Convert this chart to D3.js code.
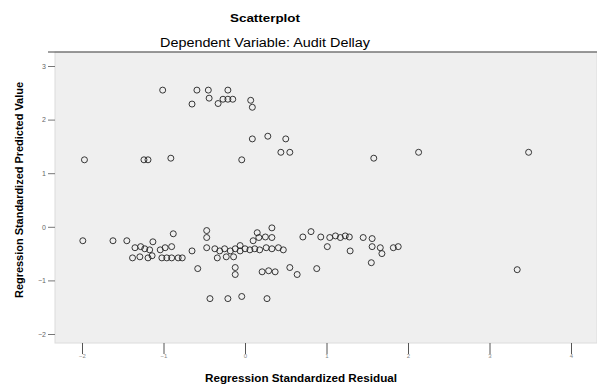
<!DOCTYPE html>
<html>
<head>
<meta charset="utf-8">
<script src="https://cdn.jsdelivr.net/npm/d3@7"></script>
<style>
  body { margin: 0; background: #fff; }
  text { font-family: "Liberation Sans", Arial, sans-serif; }
</style>
</head>
<body>
<script>
// residual (x) vs predicted value (y), both standardized
const residual = [
  -1.97, -1.24, -1.19, -0.91, -1.01, -0.59, -0.45, -0.21, -0.44, -0.65,
  -0.33, -0.27, -0.21, -0.15, 0.07, 0.09, -0.04, 0.09, 0.28, 0.50,
  0.44, 0.55, 1.58, 2.13, 3.48,
  -1.99, -1.62, -1.45, -1.13, -0.88, -0.47, -0.47, -0.47, -1.35, -1.28,
  -1.23, -1.17, -1.04, -0.98, -0.90, -0.65, -1.38, -1.29, -1.19, -1.14,
  -1.02, -0.96, -0.90, -0.82, -0.77, -0.58, -0.37, -0.31, -0.25, -0.18,
  -0.12, -0.06, 0.00, 0.06, 0.12, 0.18, 0.26, 0.33, 0.41, 0.47,
  -0.34, -0.23, -0.14, -0.12, -0.12, 0.21, 0.29, 0.37, 0.55, 0.64,
  0.88, -0.43, -0.21, -0.04, 0.27, 0.33, 0.15, 0.10, 0.17, 0.25,
  0.33, 0.71, 0.81, 0.93, 1.04, 1.11, 1.17, 1.23, 1.28, 1.01,
  1.29, 1.45, 1.56, 1.56, 1.66, 1.68, 1.82, 1.88, 1.55, 3.34,
  -0.06
];
const predicted = [
  1.25, 1.25, 1.25, 1.28, 2.55, 2.55, 2.55, 2.55, 2.40, 2.29,
  2.30, 2.38, 2.38, 2.38, 2.36, 2.23, 1.25, 1.64, 1.69, 1.64,
  1.39, 1.39, 1.28, 1.39, 1.39,
  -0.26, -0.26, -0.26, -0.28, -0.13, -0.07, -0.20, -0.39, -0.39, -0.37,
  -0.41, -0.43, -0.43, -0.39, -0.37, -0.45, -0.58, -0.56, -0.58, -0.54,
  -0.58, -0.58, -0.58, -0.58, -0.58, -0.78, -0.41, -0.45, -0.41, -0.45,
  -0.41, -0.45, -0.41, -0.43, -0.41, -0.43, -0.39, -0.41, -0.39, -0.43,
  -0.58, -0.56, -0.56, -0.76, -0.89, -0.84, -0.82, -0.84, -0.76, -0.89,
  -0.78, -1.34, -1.34, -1.30, -1.34, -0.02, -0.11, -0.26, -0.20, -0.19,
  -0.20, -0.19, -0.09, -0.19, -0.20, -0.17, -0.20, -0.17, -0.19, -0.37,
  -0.45, -0.20, -0.22, -0.37, -0.39, -0.50, -0.39, -0.37, -0.67, -0.80,
  -0.35
];
const xTicks = [-2, -1, 0, 1, 2, 3, 4];
const yTicks = [-2, -1, 0, 1, 2, 3];

const width = 597, height = 385;
const plot = { left: 55, right: 597, top: 52, bottom: 343 };

const x = d3.scaleLinear().domain([-2, 4]).range([82, 571]);
const y = d3.scaleLinear().domain([-2, 3]).range([334, 66]);

const svg = d3.select("body").append("svg")
    .attr("width", width)
    .attr("height", height);

// plot background
svg.append("rect")
    .attr("x", plot.left)
    .attr("y", plot.top)
    .attr("width", plot.right - plot.left)
    .attr("height", plot.bottom - plot.top)
    .attr("fill", "#efefef")
    .attr("stroke", "#dcdcdc");

svg.append("line")
    .attr("x1", 48).attr("x2", width)
    .attr("y1", plot.top).attr("y2", plot.top)
    .attr("stroke", "#444")
    .attr("stroke-width", 1.2);

// axes
const xAxis = g => g
    .attr("transform", `translate(0,${plot.bottom})`)
    .call(d3.axisBottom(x).tickValues(xTicks).tickSize(11).tickFormat(d3.format("d")))
    .call(g => g.select(".domain").remove())
    .call(g => g.selectAll(".tick line").attr("stroke", "#555"))
    .call(g => g.selectAll(".tick text")
        .attr("font-size", 6).attr("fill", "#888").attr("dy", "0.2em"));
svg.append("g").call(xAxis);

const yAxis = g => g
    .attr("transform", `translate(${plot.left},0)`)
    .call(d3.axisLeft(y).tickValues(yTicks).tickSize(7).tickFormat(d3.format("d")))
    .call(g => g.select(".domain").remove())
    .call(g => g.selectAll(".tick line").attr("stroke", "#777"))
    .call(g => g.selectAll(".tick text")
        .attr("font-size", 7).attr("fill", "#666").attr("x", -9));
svg.append("g").call(yAxis);

// points
svg.append("g")
    .selectAll("circle")
    .data(d3.zip(residual, predicted))
    .join("circle")
        .attr("cx", d => x(d[0]))
        .attr("cy", d => y(d[1]))
        .attr("r", 3)
        .attr("fill", "none")
        .attr("stroke", "#222")
        .attr("stroke-width", 0.9);

// titles (stretched to match the wide lettering of the original)
svg.append("text")
    .attr("x", 265).attr("y", 22)
    .attr("text-anchor", "middle")
    .attr("font-size", 10).attr("font-weight", "bold")
    .attr("textLength", 70).attr("lengthAdjust", "spacingAndGlyphs")
    .text("Scatterplot");

svg.append("text")
    .attr("x", 265).attr("y", 47)
    .attr("text-anchor", "middle")
    .attr("font-size", 12)
    .attr("textLength", 210).attr("lengthAdjust", "spacingAndGlyphs")
    .text("Dependent Variable: Audit Dellay");

svg.append("text")
    .attr("x", 301).attr("y", 382)
    .attr("text-anchor", "middle")
    .attr("font-size", 11).attr("font-weight", "bold")
    .attr("textLength", 192).attr("lengthAdjust", "spacingAndGlyphs")
    .text("Regression Standardized Residual");

svg.append("text")
    .attr("transform", "translate(23,190) rotate(-90)")
    .attr("text-anchor", "middle")
    .attr("font-size", 10).attr("font-weight", "bold")
    .attr("textLength", 216).attr("lengthAdjust", "spacingAndGlyphs")
    .text("Regression Standardized Predicted Value");
</script>
</body>
</html>
